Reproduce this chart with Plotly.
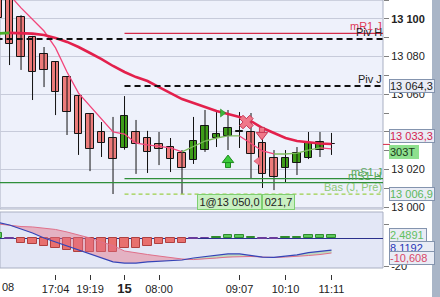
import plotly.graph_objects as go

# ---------------- data ----------------
TIME_TICK_INDEX = [5, 8, 11, 14, 21, 25, 29]
TIME_TICK_TEXT = ["17:04", "19:19", "<b><span style='font-size:13px'>15</span></b>", "08:00", "09:07", "10:10", "11:11"]
FIRST_LABEL_TEXT = "08"

OPEN = [13116.0, 13112.0, 13101.1, 13090.4, 13081.4, 13077.1, 13069.1, 13059.0, 13049.5, 13039.9,
        13036.7, 13031.4, 13039.9, 13036.7, 13033.5, 13031.9, 13028.7, 13025.0, 13030.3, 13036.7,
        13037.8, 13039.9, 13039.9, 13034.0, 13026.1, 13020.7, 13023.4, 13026.1, 13030.3, 13033.6]
HIGH = [13121.0, 13115.0, 13102.0, 13091.0, 13085.1, 13077.5, 13069.5, 13059.5, 13050.0, 13045.2,
        13047.9, 13059.0, 13046.3, 13040.5, 13039.9, 13036.7, 13030.3, 13047.9, 13051.6, 13050.5,
        13051.6, 13050.5, 13050.0, 13041.0, 13030.3, 13030.3, 13031.9, 13039.9, 13039.9, 13039.4]
LOW = [13097.0, 13075.5, 13072.9, 13056.9, 13063.8, 13048.9, 13038.3, 13027.7, 13019.1, 13026.6,
       13006.9, 13030.5, 13017.6, 13018.1, 13022.3, 13018.6, 13006.9, 13022.9, 13029.3, 13031.9,
       13030.3, 13031.4, 13015.4, 13010.1, 13009.0, 13013.3, 13017.0, 13025.5, 13026.6, 13027.7]
CLOSE = [13100.5, 13086.7, 13079.8, 13071.8, 13072.9, 13061.2, 13050.5, 13038.8, 13030.9, 13034.0,
         13025.5, 13048.4, 13033.5, 13029.3, 13030.9, 13025.5, 13020.7, 13035.1, 13043.1, 13038.8,
         13042.0, 13040.4, 13028.2, 13017.6, 13016.0, 13026.1, 13028.7, 13034.0, 13034.6, 13033.3]

MA_SLOW = [13092.3, 13092.6, 13092.5, 13092.2, 13091.5, 13089.9, 13087.8, 13085.1, 13081.9, 13078.7,
           13075.0, 13071.8, 13069.1, 13067.0, 13063.8, 13060.6, 13057.4, 13055.3, 13053.2, 13051.1,
           13049.5, 13047.9, 13045.7, 13042.0, 13039.4, 13036.7, 13035.1, 13034.3, 13033.8, 13033.5]
MA_FAST = [13123.4, 13112.8, 13105.9, 13099.7, 13093.6, 13084.6, 13071.8, 13060.6, 13053.7, 13046.3,
           13039.9, 13038.8, 13034.0, 13033.0, 13032.4, 13031.4, 13029.3, 13032.4, 13035.1, 13036.7,
           13037.8, 13037.8, 13034.0, 13029.8, 13028.2, 13028.2, 13028.7, 13030.3, 13031.4, 13030.9]

HIST = [3.5, -0.4, -3.6, -4.3, -5.7, -7.1, -8.6, -10.0, -10.0, -9.8,
        -10.0, -7.1, -7.1, -5.7, -4.3, -3.6, -3.6, -0.4, -0.2, 0.7,
        2.1, 2.1, 0.7, -0.7, -0.7, 0.7, 0.7, 2.1, 2.1, 2.1]
MACD = [11.1, 9.3, 6.4, 3.6, 0.0, -2.9, -5.7, -8.6, -11.4, -14.6,
        -17.1, -17.9, -17.9, -17.1, -16.8, -16.4, -15.7, -14.3, -13.2, -12.1,
        -11.4, -11.4, -12.5, -13.6, -13.9, -13.2, -12.1, -10.4, -9.3, -8.6]
SIGNAL = [10.0, 8.9, 8.2, 7.9, 7.1, 6.1, 4.3, 2.1, 0.0, -2.9,
          -5.4, -9.3, -10.7, -11.8, -12.9, -13.9, -15.0, -15.4, -15.0, -14.3,
          -13.6, -13.2, -13.2, -13.6, -13.9, -13.6, -13.2, -12.5, -11.8, -10.7]

LEVEL_NAMES = ["mR1 J", "Piv H", "Piv J", "mS1 J", "mS1 H", "Bas (J, Pré)"]
LEVEL_VALUES = [13092.4, 13089.4, 13064.3, 13015.1, 13013.0, 13006.9]
LEVEL_FROM = [11, -1, 11, 11, -1, 11]

LAST_PRICE = 13033.3
VOLUME_TEXT = "303T"
TRADE_QTY = 1
TRADE_PRICE = 13050.0
TRADE_RESULT = "021,7"
HIST_LAST = 2.4891
MACD_LAST = 8.1192
SIGNAL_LAST = -10.608

SELL_SIGNAL = (21.6, 13045.2)
DOWN_SIGNAL = (22.95, 13039.4)
UP_SIGNAL = (20.0, 13023.9)
ENTRY_MARK = (19.5, 13050.0)
EXIT_MARK = (22.6, 13024.4)

MAIN_TICKS = [13000, 13020, 13040, 13060, 13080, 13100]
MAIN_MINOR = [13010, 13030, 13050, 13070, 13090, 13110]

# ---------------- layout helpers ----------------
W, H = 440, 297
ML, MR, MT, MB = 0, 57, 0, 23
PW, PH = W - ML - MR, H - MT - MB
FONT = "Liberation Sans, Arial, sans-serif"
PX_PER_UNIT = 1.88


def px_x(px):
    return (px - ML) / PW


def px_y(py):
    return (PH - (py - MT)) / PH


def fr(v, d=1):
    s = f"{v:,.{d}f}"
    return s.replace(",", " ").replace(".", ",")


X_RANGE = [0.17, 33.48]
Y_RANGE = [12998.94, 13110.1]
Y2_RANGE = [-25.71, 18.57]

RED_BODY = "#EC7B7A"
GREEN_BODY = "#3E9C18"

fig = go.Figure()
idx = list(range(len(OPEN)))

# wicks
wx, wy = [], []
for i, (h, l) in enumerate(zip(HIGH, LOW)):
    wx += [i, i, None]
    wy += [l, h, None]
fig.add_trace(go.Scatter(x=wx, y=wy, mode="lines", line=dict(color="#111111", width=1),
                         xaxis="x", yaxis="y", hoverinfo="skip"))

# bodies
bases = [min(o, c) for o, c in zip(OPEN, CLOSE)]
heights = [max(abs(c - o), 0.4) for o, c in zip(OPEN, CLOSE)]
colors = [GREEN_BODY if c > o else RED_BODY for o, c in zip(OPEN, CLOSE)]
fig.add_trace(go.Bar(x=idx, y=heights, base=bases, width=0.68,
                     marker=dict(color=colors, line=dict(color="#151515", width=1)),
                     xaxis="x", yaxis="y", hoverinfo="skip"))


def add_slope_line(vals, up_color, down_color, width):
    n = len(vals)
    dirs = [vals[i + 1] >= vals[i] for i in range(n - 1)]
    start = 0
    for i in range(1, n):
        if i == n - 1 or dirs[i] != dirs[start]:
            end = i if i < n - 1 else n - 1
            xs = list(range(start, end + 1))
            ys = [vals[j] for j in xs]
            fig.add_trace(go.Scatter(x=xs, y=ys, mode="lines",
                                     line=dict(color=up_color if dirs[start] else down_color, width=width),
                                     xaxis="x", yaxis="y", hoverinfo="skip"))
            start = i


add_slope_line(MA_FAST, "#7DBB5C", "#F2457A", 1.3)
add_slope_line(MA_SLOW, "#4CAF2A", "#E3204C", 2.6)

# levels
level_styles = {
    "mR1 J": dict(color="#D42A48", width=1.3, dash="solid"),
    "Piv H": dict(color="#111111", width=2, dash="6px,4px"),
    "Piv J": dict(color="#111111", width=2, dash="6px,4px"),
    "mS1 J": dict(color="#2F8F3A", width=1.3, dash="solid"),
    "mS1 H": dict(color="#2F8F3A", width=1.3, dash="solid"),
    "Bas (J, Pré)": dict(color="#9CCF4A", width=1.2, dash="4px,3px"),
}
label_colors = {"mR1 J": "#E03A58", "Piv H": "#222222", "Piv J": "#222222",
                "mS1 J": "#58A858", "mS1 H": "#58A858", "Bas (J, Pré)": "#8CC878"}
for name, val, x0 in zip(LEVEL_NAMES, LEVEL_VALUES, LEVEL_FROM):
    fig.add_trace(go.Scatter(x=[x0, X_RANGE[1] + 1], y=[val, val], mode="lines",
                             line=level_styles[name], xaxis="x", yaxis="y", hoverinfo="skip"))


def block_arrow(pos, up, fill, edge):
    x, y = pos
    d = 1 if up else -1
    stem_y = y - d * 3.0 / PX_PER_UNIT
    head_y = y + d * 2.0 / PX_PER_UNIT
    fig.add_trace(go.Scatter(x=[x], y=[stem_y], mode="markers",
                             marker=dict(symbol="square", size=5, color=fill, line=dict(color=edge, width=1)),
                             xaxis="x", yaxis="y", hoverinfo="skip"))
    fig.add_trace(go.Scatter(x=[x], y=[head_y], mode="markers",
                             marker=dict(symbol="triangle-up" if up else "triangle-down", size=10,
                                         color=fill, line=dict(color=edge, width=1)),
                             xaxis="x", yaxis="y", hoverinfo="skip"))
    fig.add_trace(go.Scatter(x=[x], y=[stem_y], mode="markers",
                             marker=dict(symbol="square", size=3, color=fill, line=dict(width=0)),
                             xaxis="x", yaxis="y", hoverinfo="skip"))


# signals
fig.add_trace(go.Scatter(x=[SELL_SIGNAL[0]], y=[SELL_SIGNAL[1]], mode="markers",
                         marker=dict(symbol="x", size=12, color="#F0788A", line=dict(color="#C83A58", width=1)),
                         xaxis="x", yaxis="y", hoverinfo="skip"))
block_arrow(DOWN_SIGNAL, False, "#F0788A", "#C83A58")
block_arrow(UP_SIGNAL, True, "#3CCB3C", "#1E8A1E")
fig.add_trace(go.Scatter(x=[ENTRY_MARK[0]], y=[ENTRY_MARK[1]], mode="markers",
                         marker=dict(symbol="triangle-right", size=7, color="#3CB83C", line=dict(color="#1E8A1E", width=0.5)),
                         xaxis="x", yaxis="y", hoverinfo="skip"))
fig.add_trace(go.Scatter(x=[EXIT_MARK[0]], y=[EXIT_MARK[1]], mode="markers",
                         marker=dict(symbol="triangle-left", size=8, color="#F0788A", line=dict(color="#C83A58", width=0.5)),
                         xaxis="x", yaxis="y", hoverinfo="skip"))

# MACD panel
lower_sig = [min(m, s) for m, s in zip(MACD, SIGNAL)]
fig.add_trace(go.Scatter(x=idx, y=lower_sig, mode="lines", line=dict(width=0), xaxis="x", yaxis="y2", hoverinfo="skip"))
fig.add_trace(go.Scatter(x=idx, y=SIGNAL, mode="lines", line=dict(width=0), fill="tonexty",
                         fillcolor="rgba(228,112,132,0.45)", xaxis="x", yaxis="y2", hoverinfo="skip"))
fig.add_trace(go.Scatter(x=idx, y=lower_sig, mode="lines", line=dict(width=0), xaxis="x", yaxis="y2", hoverinfo="skip"))
fig.add_trace(go.Scatter(x=idx, y=MACD, mode="lines", line=dict(width=0), fill="tonexty",
                         fillcolor="rgba(160,205,150,0.55)", xaxis="x", yaxis="y2", hoverinfo="skip"))

hist_fill = ["#5CC85C" if v > 0 else "#E8706E" for v in HIST]
hist_line = ["#2E8B2E" if v > 0 else ("#6A3C9C" if v > -1 else "#B04040") for v in HIST]
fig.add_trace(go.Bar(x=idx, y=HIST, width=0.72, marker=dict(color=hist_fill, line=dict(color=hist_line, width=1)),
                     xaxis="x", yaxis="y2", hoverinfo="skip"))
fig.add_trace(go.Scatter(x=idx, y=SIGNAL, mode="lines", line=dict(color="#E0708A", width=1),
                         xaxis="x", yaxis="y2", hoverinfo="skip"))
fig.add_trace(go.Scatter(x=idx, y=MACD, mode="lines", line=dict(color="#3444B8", width=1.2),
                         xaxis="x", yaxis="y2", hoverinfo="skip"))

# ---------------- layout ----------------
axis_font = dict(family=FONT, size=11, color="#222222")
main_ticktext = []
for v in MAIN_TICKS:
    if v == 13100:
        main_ticktext.append("<b>" + fr(v, 0) + "</b>")
    elif v == 13040:
        main_ticktext.append("")  # hidden behind the last-price box in the reference
    else:
        main_ticktext.append(fr(v, 0))

shapes = [
    dict(type="rect", xref="paper", yref="paper", x0=0, x1=1, y0=px_y(209), y1=1,
         fillcolor="#EEF1FB", line=dict(color="#A9AFC2", width=1), layer="below"),
    dict(type="rect", xref="paper", yref="paper", x0=0, x1=1, y0=px_y(268), y1=px_y(212),
         fillcolor="#E3E7F6", line=dict(color="#A9AFC2", width=1), layer="below"),
    dict(type="rect", xref="paper", yref="paper", x0=px_x(432), x1=px_x(442), y0=px_y(299), y1=px_y(-2),
         fillcolor="#A9B5C7", line=dict(width=0), layer="above"),
    dict(type="line", xref="paper", yref="y", x0=1, x1=px_x(390), y0=LAST_PRICE, y1=LAST_PRICE,
         line=dict(color="#D42A48", width=1)),
]

annotations = [
    dict(text=FIRST_LABEL_TEXT, xref="paper", yref="paper", x=px_x(0), y=px_y(287),
         xanchor="left", yanchor="middle", showarrow=False, font=axis_font),
]
for name, val in zip(LEVEL_NAMES, LEVEL_VALUES):
    annotations.append(dict(text=name, xref="paper", yref="y", x=px_x(383), y=val,
                            xanchor="right", yanchor="bottom", showarrow=False, borderpad=0,
                            font=dict(family=FONT, size=11, color=label_colors[name])))


def value_box(text, center_py, color, bg="#E9ECF5", border="#8494AE", width=44, x_px=389):
    return dict(text=text, xref="paper", yref="paper", x=px_x(x_px), y=px_y(center_py),
                xanchor="left", yanchor="middle", showarrow=False, width=width, height=12,
                align="left", bgcolor=bg, bordercolor=border, borderwidth=1, borderpad=0,
                font=dict(family=FONT, size=11, color=color))


annotations += [
    value_box(fr(LEVEL_VALUES[2]), 86, "#222222"),
    value_box(fr(LAST_PRICE), 135.5, "#D41E50"),
    value_box(VOLUME_TEXT, 152, "#1A3A1A", bg="#8EE08E", border="#8EE08E", width=28),
    value_box(fr(LEVEL_VALUES[5]), 194, "#5CB85C"),
    value_box(str(HIST_LAST).replace(".", ","), 234.5, "#62C062", width=36),
    value_box(str(MACD_LAST).replace(".", ","), 248, "#2838B8"),
    value_box(str(SIGNAL_LAST).replace(".", ","), 258, "#D84868"),
    dict(text=f"{TRADE_QTY}@{fr(TRADE_PRICE)}", xref="paper", yref="paper", x=px_x(197), y=px_y(201.5),
         xanchor="left", yanchor="middle", showarrow=False, width=63, height=14, align="center",
         bgcolor="#C9F0C2", bordercolor="#7FCF72", borderwidth=1, borderpad=0,
         font=dict(family=FONT, size=11, color="#222222")),
    dict(text=TRADE_RESULT, xref="paper", yref="paper", x=px_x(262), y=px_y(201.5),
         xanchor="left", yanchor="middle", showarrow=False, width=31, height=14, align="center",
         bgcolor="#C9F0C2", bordercolor="#7FCF72", borderwidth=1, borderpad=0,
         font=dict(family=FONT, size=11, color="#222222")),
]

fig.update_layout(
    width=W, height=H, margin=dict(l=ML, r=MR, t=MT, b=MB),
    paper_bgcolor="white", plot_bgcolor="rgba(0,0,0,0)",
    showlegend=False, barmode="overlay", bargap=0,
    xaxis=dict(range=X_RANGE, anchor="y2", domain=[0, 1], tickmode="array",
               tickvals=TIME_TICK_INDEX, ticktext=TIME_TICK_TEXT,
               ticks="outside", ticklen=5, tickcolor="#333333", showgrid=False,
               zeroline=False, showline=False, tickfont=axis_font, fixedrange=True),
    yaxis=dict(domain=[px_y(209), 1], range=Y_RANGE, side="right", anchor="x",
               tickmode="array", tickvals=MAIN_TICKS, ticktext=main_ticktext,
               ticks="outside", ticklen=5, tickcolor="#808080",
               showgrid=True, gridcolor="#C7CBDA", gridwidth=1, zeroline=False, showline=False,
               minor=dict(tickmode="array", tickvals=MAIN_MINOR, ticks="outside", ticklen=5,
                          tickcolor="#808080", showgrid=False),
               tickfont=axis_font),
    yaxis2=dict(domain=[0, px_y(212)], range=Y2_RANGE, side="right", anchor="x",
                tickmode="array", tickvals=[10, -20], ticktext=["", "-20"],
                ticks="outside", ticklen=5, tickcolor="#808080", showgrid=False,
                zeroline=True, zerolinecolor="#2A308C", zerolinewidth=1, showline=False,
                tickfont=axis_font),
    shapes=shapes, annotations=annotations,
)

fig.write_html("out.html")
